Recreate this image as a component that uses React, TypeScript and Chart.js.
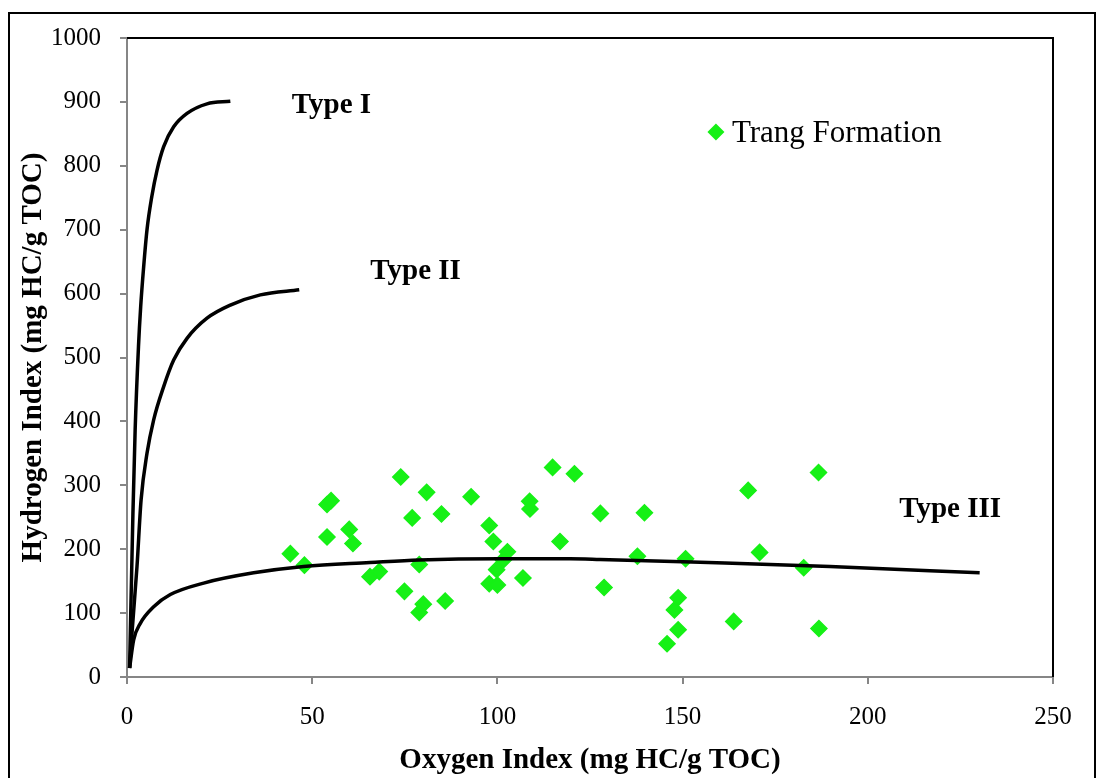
import { useEffect, useRef } from 'react';
import { Chart, registerables } from 'chart.js';

Chart.register(...registerables);

const FONT = '"Liberation Serif", "Times New Roman", Times, serif';

// Trang Formation samples
const oxygenIndex = [
  44.1, 47.9, 54.0, 54.0, 55.1, 60.0, 61.0, 65.6, 68.1, 73.9, 77.0, 74.9, 78.9, 80.9, 80.0, 78.9,
  84.9, 85.9, 92.9, 97.8, 98.9, 102.7, 101.6, 99.8, 97.8, 100.0, 106.9, 108.7, 108.8, 114.9, 116.9,
  120.8, 127.8, 139.7, 128.8, 137.8, 150.8, 167.7, 186.7, 170.8, 182.7, 148.8, 147.8, 148.8, 145.8,
  163.8, 186.8,
];
const hydrogenIndex = [
  193, 175, 219, 270, 276, 231, 209, 157, 165, 313, 249, 134, 176, 289, 114, 101,
  255, 119, 282, 237, 212, 196, 183, 168, 146, 144, 155, 275, 263, 328, 212,
  318, 256, 257, 140, 189, 185, 292, 320, 195, 171, 124, 105, 74, 52,
  87, 76,
];

// Kerogen type reference curves
const typeIOI = [0.7, 1.6, 2.2, 3.1, 3.7, 4.5, 5.4, 6.7, 8.1, 9.9, 12.6, 16.2, 21.6, 27.9];
const typeIHI = [14, 256, 387, 517, 580, 642, 700, 752, 793, 830, 861, 882, 897, 901];

const typeIIOI = [0.7, 1.35, 2.7, 3.8, 5.4, 7.2, 9.9, 12.6, 16.2, 21.6, 27.9, 36, 46.5];
const typeIIHI = [14, 69, 173, 277, 350, 402.5, 454.5, 496, 530, 561.5, 582, 598, 606];

const typeIIIOI = [0.7, 1.8, 3.6, 7.2, 11.7, 20.7, 34.2, 47.7, 65.6, 78.9, 100.8, 119.6, 127.7, 154.7, 189.8, 230.2];
const typeIIIHI = [14, 58, 84, 110, 129, 147, 163, 173, 179, 183, 185, 185, 184, 179.5, 173, 163];

const curveLabels = ['Type I', 'Type II', 'Type III'];
const curveLabelOI = [44.5, 65.7, 208.5];
const curveLabelHI = [882, 622.6, 251];

const seriesName = 'Trang Formation';
const xTickMax = 250;
const xTickStep = 50;
const yTickMax = 1000;
const yTickStep = 100;

const GREEN = '#16f016';
const AXIS_GRAY = '#868686';

const pts = (xs: number[], ys: number[]) => xs.map((x, i) => ({ x, y: ys[i] }));

export default function App() {
  const ref = useRef<HTMLCanvasElement>(null);

  useEffect(() => {
    if (!ref.current) return;

    const annotations = {
      id: 'annotations',
      afterDatasetsDraw(chart: any) {
        const { ctx, chartArea: a, scales } = chart;
        const x = scales.x;
        const y = scales.y;
        ctx.save();
        // top and right frame of plot area
        ctx.strokeStyle = '#000';
        ctx.lineWidth = 2;
        ctx.beginPath();
        ctx.moveTo(a.left, a.top);
        ctx.lineTo(a.right, a.top);
        ctx.lineTo(a.right, a.bottom);
        ctx.stroke();

        // curve labels
        ctx.fillStyle = '#000';
        ctx.font = `bold 29px ${FONT}`;
        ctx.textAlign = 'left';
        ctx.textBaseline = 'alphabetic';
        curveLabels.forEach((t, i) => {
          ctx.fillText(t, x.getPixelForValue(curveLabelOI[i]), y.getPixelForValue(curveLabelHI[i]));
        });

        // legend (inside plot)
        const lx = x.getPixelForValue(159);
        const ly = y.getPixelForValue(853);
        const r = 8.5;
        ctx.fillStyle = GREEN;
        ctx.beginPath();
        ctx.moveTo(lx, ly - r);
        ctx.lineTo(lx + r, ly);
        ctx.lineTo(lx, ly + r);
        ctx.lineTo(lx - r, ly);
        ctx.closePath();
        ctx.fill();
        ctx.fillStyle = '#000';
        ctx.font = `31px ${FONT}`;
        ctx.textBaseline = 'alphabetic';
        ctx.fillText(seriesName, lx + 16, ly + 10.5);
        ctx.restore();
      },
    };

    const lineStyle = {
      showLine: true,
      borderColor: '#000',
      borderWidth: 3.5,
      pointRadius: 0,
      pointHoverRadius: 0,
      cubicInterpolationMode: 'monotone' as const,
      fill: false,
    };

    const chart = new Chart(ref.current, {
      type: 'scatter',
      data: {
        datasets: [
          { label: 'Type I', data: pts(typeIOI, typeIHI), ...lineStyle },
          { label: 'Type II', data: pts(typeIIOI, typeIIHI), ...lineStyle },
          { label: 'Type III', data: pts(typeIIIOI, typeIIIHI), ...lineStyle },
          {
            label: seriesName,
            data: pts(oxygenIndex, hydrogenIndex),
            pointStyle: 'rectRot',
            pointRadius: 8,
            pointHoverRadius: 8,
            pointBorderWidth: 1.5,
            backgroundColor: GREEN,
            borderColor: GREEN,
            showLine: false,
          },
        ],
      },
      options: {
        animation: false,
        responsive: true,
        maintainAspectRatio: false,
        layout: { autoPadding: false, padding: { left: 0, top: 24, right: 41, bottom: 0 } },
        plugins: {
          legend: { display: false },
          tooltip: { enabled: false },
        },
        scales: {
          x: {
            type: 'linear',
            min: 0,
            max: xTickMax,
            afterFit: (s: any) => { s.height = 101; s.paddingLeft = 0; s.paddingRight = 0; },
            ticks: {
              stepSize: xTickStep,
              color: '#000',
              font: { family: FONT, size: 25 },
              padding: 18,
              maxRotation: 0,
              callback: (v: any) => String(v),
            },
            grid: { drawOnChartArea: false, drawTicks: true, tickLength: 7, color: AXIS_GRAY, lineWidth: 2 },
            border: { color: AXIS_GRAY, width: 2 },
            title: {
              display: true,
              text: 'Oxygen Index (mg HC/g TOC)',
              color: '#000',
              font: { family: FONT, size: 29, weight: 'bold' },
              padding: { top: 0, bottom: 0 },
            },
          },
          y: {
            type: 'linear',
            min: 0,
            max: yTickMax,
            afterFit: (s: any) => { s.width = 117; s.paddingTop = 0; s.paddingBottom = 0; },
            ticks: {
              stepSize: yTickStep,
              color: '#000',
              font: { family: FONT, size: 25 },
              padding: 19,
              callback: (v: any) => String(v),
            },
            grid: { drawOnChartArea: false, drawTicks: true, tickLength: 7, color: AXIS_GRAY, lineWidth: 2 },
            border: { color: AXIS_GRAY, width: 2 },
            title: {
              display: true,
              text: 'Hydrogen Index (mg HC/g TOC)',
              color: '#000',
              font: { family: FONT, size: 29, weight: 'bold' },
              padding: { top: 6, bottom: 0 },
            },
          },
        },
      },
      plugins: [annotations],
    });

    return () => chart.destroy();
  }, []);

  return (
    <div
      style={{
        position: 'absolute',
        left: 8,
        top: 12,
        width: 1088,
        height: 766,
        boxSizing: 'border-box',
        borderTop: '2px solid #000',
        borderLeft: '2px solid #000',
        borderRight: '2px solid #000',
        background: '#fff',
      }}
    >
      <canvas ref={ref} />
    </div>
  );
}
